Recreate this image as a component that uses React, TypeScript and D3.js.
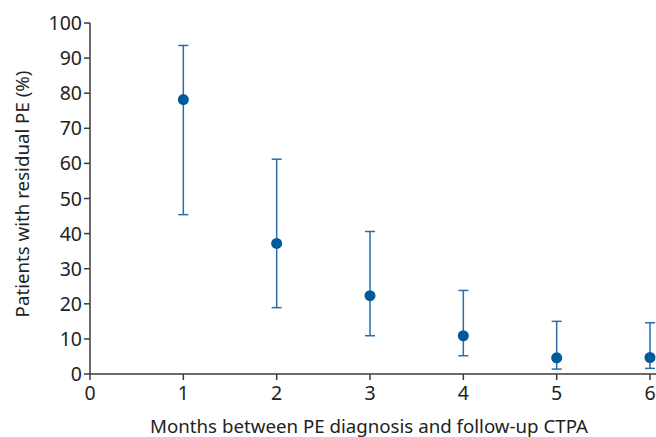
import React from "react";
import * as d3 from "d3";

const months = [1, 2, 3, 4, 5, 6];
const estimate = [78.2, 37.2, 22.3, 10.9, 4.6, 4.7];
const lower = [45.4, 18.9, 10.9, 5.2, 1.4, 1.6];
const upper = [93.6, 61.2, 40.6, 23.8, 15.0, 14.6];
const yTicks = [0, 10, 20, 30, 40, 50, 60, 70, 80, 90, 100];
const xTicks = [0, 1, 2, 3, 4, 5, 6];

const W = 656;
const H = 437;
const FONT = "'Source Sans Pro', 'Noto Sans', sans-serif";

export default function App() {
  const x = d3.scaleLinear().domain([0, 6]).range([90, 650]);
  const y = d3.scaleLinear().domain([0, 100]).range([374, 23]);
  const axisColor = "#3a3a3a";
  const textColor = "#222";
  const markColor = "#005a9c";
  const barColor = "#2a6da8";

  return (
    <svg
      width={W}
      height={H}
      style={{ position: "absolute", left: 0, top: 0, background: "#fff" }}
      fontFamily={FONT}
    >
      {/* y axis */}
      <line x1={x(0)} x2={x(0)} y1={y(100)} y2={y(0)} stroke={axisColor} strokeWidth={1.5} />
      {yTicks.map((t) => (
        <g key={"y" + t}>
          <line x1={x(0) - 6} x2={x(0)} y1={y(t)} y2={y(t)} stroke={axisColor} strokeWidth={1.5} />
          <text x={x(0) - 8} y={y(t)} dy="0.36em" textAnchor="end" fontSize={19.5} fill={textColor}>
            {t}
          </text>
        </g>
      ))}
      {/* x axis */}
      <line x1={x(0)} x2={W} y1={y(0)} y2={y(0)} stroke={axisColor} strokeWidth={1.5} />
      {xTicks.map((t) => (
        <g key={"x" + t}>
          <line x1={x(t)} x2={x(t)} y1={y(0)} y2={y(0) + 6} stroke={axisColor} strokeWidth={1.5} />
          <text x={x(t)} y={y(0) + 26} textAnchor="middle" fontSize={19.5} fill={textColor}>
            {t}
          </text>
        </g>
      ))}
      {/* axis titles */}
      <text x={369} y={433} textAnchor="middle" fontSize={18.7} fill={textColor}>
        Months between PE diagnosis and follow-up CTPA
      </text>
      <text
        transform={`translate(29, 194) rotate(-90)`}
        textAnchor="middle"
        fontSize={18.7}
        fill={textColor}
      >
        Patients with residual PE (%)
      </text>
      {/* error bars and points */}
      {months.map((m, i) => (
        <g key={"m" + m}>
          <line x1={x(m)} x2={x(m)} y1={y(lower[i])} y2={y(upper[i])} stroke={barColor} strokeWidth={1.5} />
          <line x1={x(m) - 5} x2={x(m) + 5} y1={y(upper[i])} y2={y(upper[i])} stroke={barColor} strokeWidth={1.5} />
          <line x1={x(m) - 5} x2={x(m) + 5} y1={y(lower[i])} y2={y(lower[i])} stroke={barColor} strokeWidth={1.5} />
          <circle cx={x(m)} cy={y(estimate[i])} r={5.5} fill={markColor} />
        </g>
      ))}
    </svg>
  );
}
